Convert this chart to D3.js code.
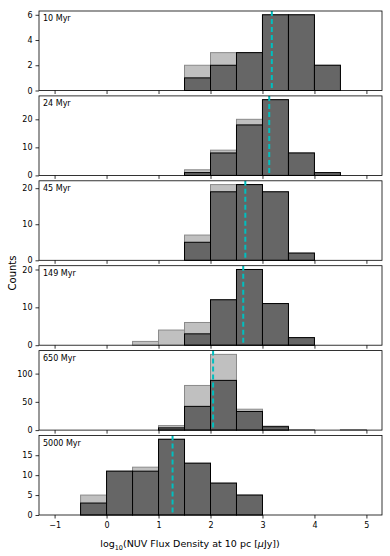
<!DOCTYPE html>
<html>
<head>
<meta charset="utf-8">
<script src="https://cdn.jsdelivr.net/npm/d3@7"></script>
<style>
  body { margin: 0; background: #fff; }
  svg { display: block; font-family: "DejaVu Sans", sans-serif; }
</style>
</head>
<body>
<div id="chart"></div>
<script>
// bins from -1 to 5 in steps of 0.5
const binEdges = d3.range(-1, 5.01, 0.5);

const ages = ["10 Myr", "24 Myr", "45 Myr", "149 Myr", "650 Myr", "5000 Myr"];

const allCounts = [
  [0, 0, 0, 0, 0, 2, 3, 3, 6, 6, 2, 0],
  [0, 0, 0, 0, 0, 2, 9, 20, 27, 8, 1, 0],
  [0, 0, 0, 0, 0, 7, 21, 21, 19, 2, 0, 0],
  [0, 0, 0, 1, 4, 6, 12, 20, 11, 2, 0, 0],
  [0, 0, 0, 0, 8, 79, 134, 37, 7, 1, 0, 1],
  [0, 5, 11, 12, 19, 13, 8, 5, 0, 0, 0, 0],
];

const subsetCounts = [
  [0, 0, 0, 0, 0, 1, 2, 3, 6, 6, 2, 0],
  [0, 0, 0, 0, 0, 1, 8, 18, 27, 8, 1, 0],
  [0, 0, 0, 0, 0, 5, 19, 21, 19, 2, 0, 0],
  [0, 0, 0, 0, 0, 3, 12, 20, 11, 2, 0, 0],
  [0, 0, 0, 0, 4, 42, 88, 33, 6, 0, 0, 0],
  [0, 3, 11, 11, 19, 13, 8, 5, 0, 0, 0, 0],
];

const medians = [3.18, 3.13, 2.67, 2.63, 2.05, 1.27];

const yTicks = [
  [0, 2, 4, 6],
  [0, 10, 20],
  [0, 10, 20],
  [0, 10, 20],
  [0, 50, 100],
  [0, 5, 10, 15],
];

const xTicks = [-1, 0, 1, 2, 3, 4, 5];

const width = 390;
const height = 556;
const left = 39;
const right = 382;
const firstTop = 11;
const panelHeight = 79.5;
const panelStep = 84.9;

const svg = d3
  .select("#chart")
  .append("svg")
  .attr("width", width)
  .attr("height", height);

const x = d3.scaleLinear().domain([-1.3, 5.3]).range([left, right]);
const minus = (d) => String(d).replace("-", "\u2212");

ages.forEach((age, i) => {
  const top = firstTop + i * panelStep;
  const bottom = top + panelHeight;
  const light = allCounts[i];
  const dark = subsetCounts[i];
  const y = d3
    .scaleLinear()
    .domain([0, d3.max(light) * 1.05])
    .range([bottom, top]);

  const bins = light.map((count, k) => ({
    x0: binEdges[k],
    x1: binEdges[k + 1],
    all: count,
    sub: dark[k],
  }));

  const panel = svg.append("g").attr("class", "panel");

  panel
    .append("g")
    .selectAll("rect")
    .data(bins)
    .join("rect")
    .attr("x", (d) => x(d.x0))
    .attr("width", (d) => x(d.x1) - x(d.x0))
    .attr("y", (d) => y(d.all))
    .attr("height", (d) => y(0) - y(d.all))
    .attr("fill", "#c0c0c0")
    .attr("stroke", "#8a8a8a")
    .attr("stroke-width", 1);

  panel
    .append("g")
    .selectAll("rect")
    .data(bins)
    .join("rect")
    .attr("x", (d) => x(d.x0))
    .attr("width", (d) => x(d.x1) - x(d.x0))
    .attr("y", (d) => y(d.sub))
    .attr("height", (d) => y(0) - y(d.sub))
    .attr("fill", "#666666")
    .attr("stroke", (d) => (d.sub > 0 || d.all === 0 ? "#000" : "none"))
    .attr("stroke-width", 1);

  panel
    .append("line")
    .attr("x1", x(medians[i]))
    .attr("x2", x(medians[i]))
    .attr("y1", top)
    .attr("y2", bottom)
    .attr("stroke", "#00bfbf")
    .attr("stroke-width", 2)
    .attr("stroke-dasharray", "5,3");

  panel
    .append("rect")
    .attr("x", left)
    .attr("y", top)
    .attr("width", right - left)
    .attr("height", panelHeight)
    .attr("fill", "none")
    .attr("stroke", "#000")
    .attr("stroke-width", 0.8);

  const yAxis = panel
    .append("g")
    .attr("transform", `translate(${left},0)`)
    .call(
      d3
        .axisLeft(y)
        .tickValues(yTicks[i])
        .tickSize(3.5)
        .tickPadding(3)
        .tickFormat(d3.format("d")),
    );

  const xAxis = panel
    .append("g")
    .attr("transform", `translate(0,${bottom})`)
    .call(
      d3
        .axisBottom(x)
        .tickValues(xTicks)
        .tickSize(3.5)
        .tickPadding(3.5)
        .tickFormat(i === ages.length - 1 ? minus : () => ""),
    );

  [yAxis, xAxis].forEach((axis) => {
    axis.select(".domain").remove();
    axis.selectAll("line").attr("stroke", "#000").attr("stroke-width", 0.8);
    axis
      .selectAll("text")
      .attr("fill", "#000")
      .style("font-size", "8px")
      .style("font-family", "DejaVu Sans, sans-serif");
  });

  panel
    .append("text")
    .attr("x", left + 4)
    .attr("y", top + 10)
    .attr("font-size", "8px")
    .attr("fill", "#000")
    .text(age);
});

svg
  .append("text")
  .attr("transform", "translate(16,273) rotate(-90)")
  .attr("text-anchor", "middle")
  .attr("font-size", "10px")
  .attr("fill", "#000")
  .text("Counts");

const xLabel = svg
  .append("text")
  .attr("x", 190)
  .attr("y", 547)
  .attr("text-anchor", "middle")
  .attr("font-size", "9.5px")
  .attr("fill", "#000");

xLabel.append("tspan").text("log");
xLabel.append("tspan").attr("font-size", "6.5px").attr("dy", 2.5).text("10");
xLabel.append("tspan").attr("dy", -2.5).text("(NUV Flux Density at 10 pc [");
xLabel.append("tspan").attr("font-style", "italic").text("\u03bc");
xLabel.append("tspan").text("Jy])");
</script>
</body>
</html>
